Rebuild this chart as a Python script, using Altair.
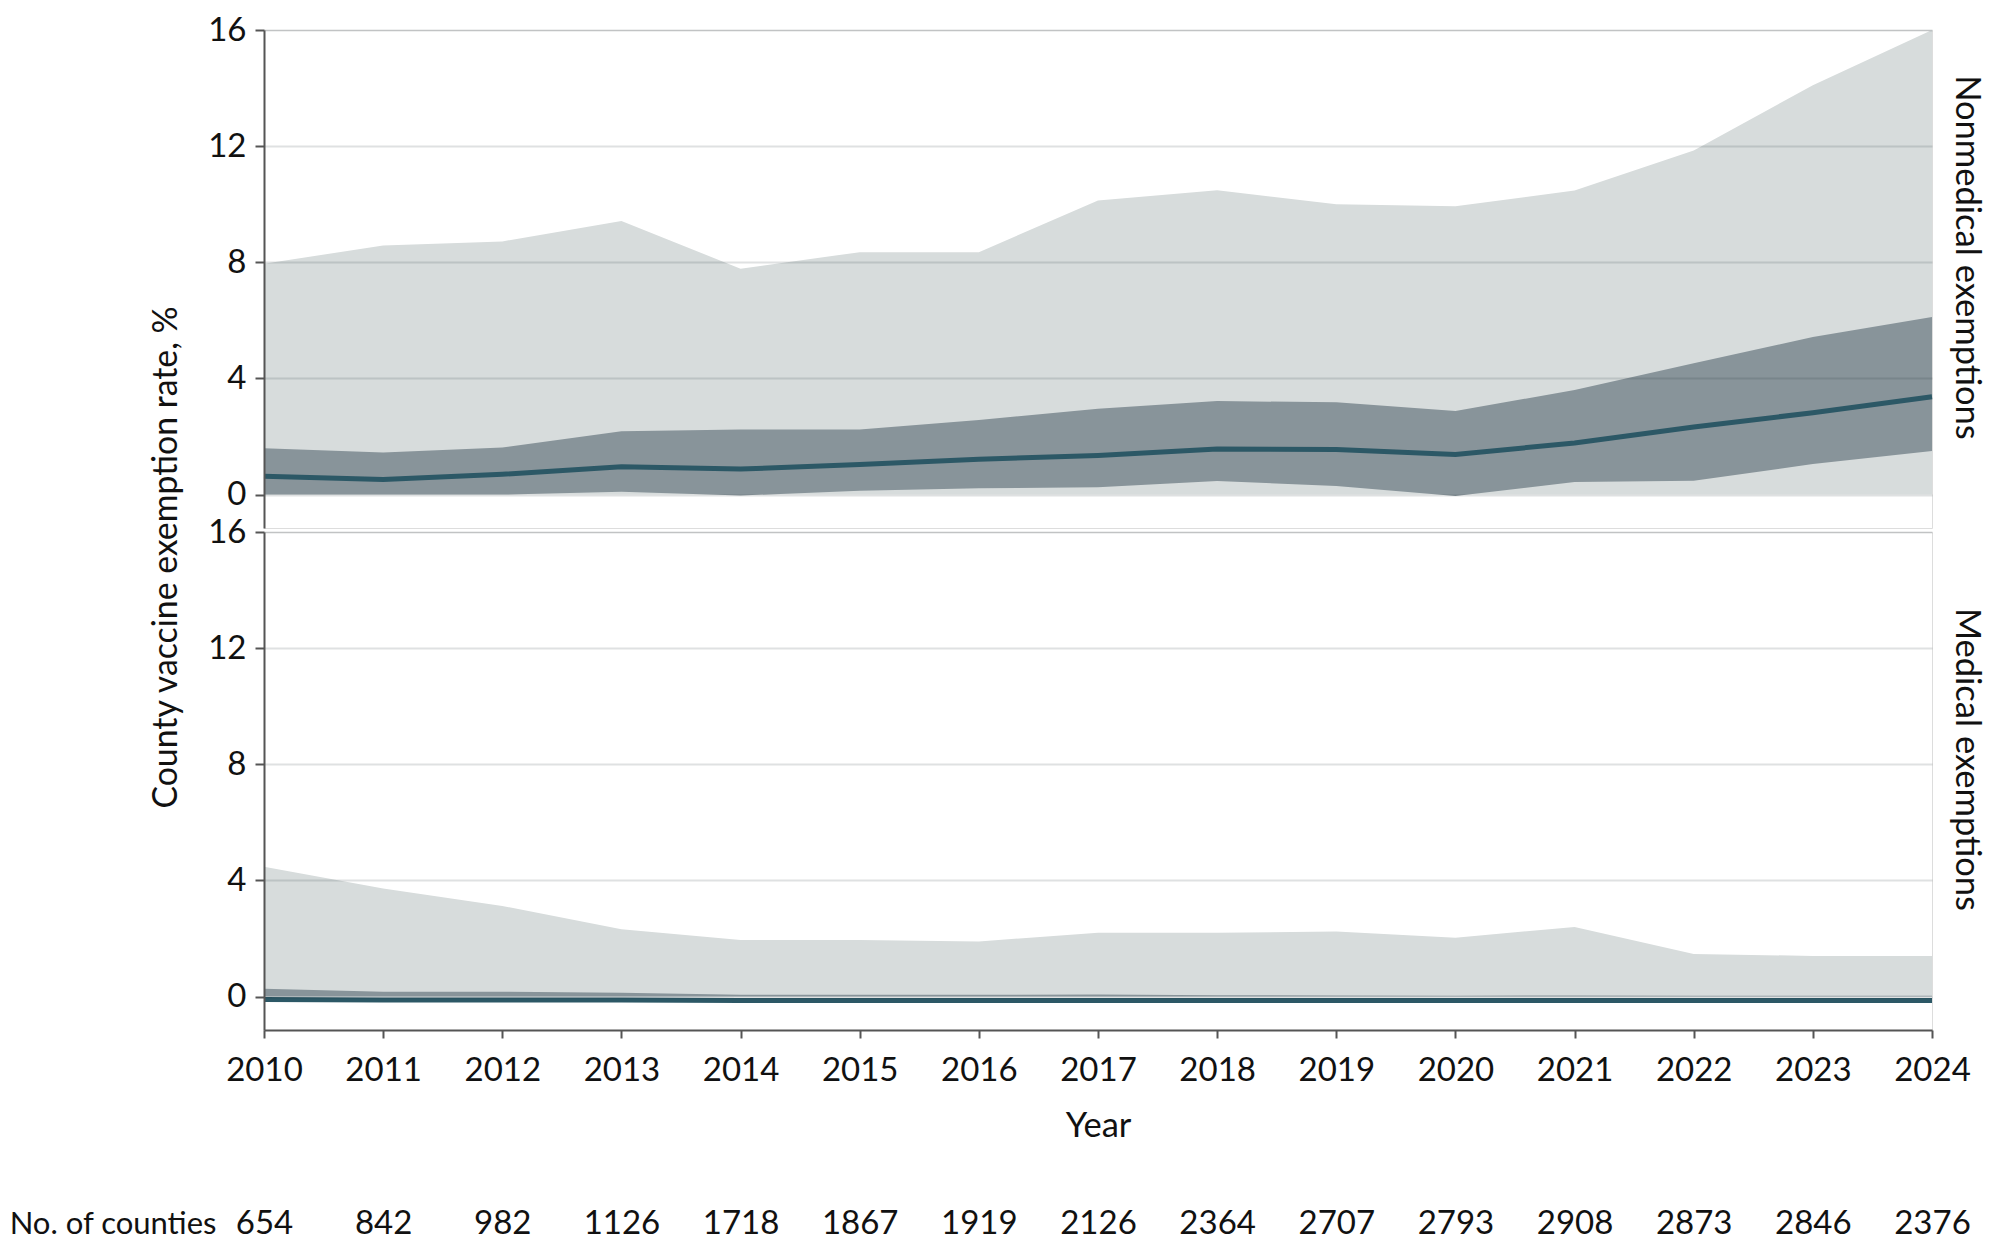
import altair as alt
import pandas as pd

years = list(range(2010, 2025))
counties = [654, 842, 982, 1126, 1718, 1867, 1919, 2126, 2364, 2707, 2793, 2908, 2873, 2846, 2376]

# Nonmedical exemptions (county exemption rate, %)
nm_range_lo = [0, 0, 0, 0, 0, 0, 0, 0, 0, 0, 0, 0, 0, 0, 0]
nm_range_hi = [7.95, 8.58, 8.72, 9.42, 7.78, 8.35, 8.35, 10.13, 10.48, 10.0, 9.93, 10.47, 11.85, 14.1, 16.0]
nm_iqr_lo = [0.0, 0.0, 0.0, 0.1, -0.03, 0.13, 0.22, 0.25, 0.47, 0.3, -0.05, 0.43, 0.48, 1.05, 1.5]
nm_iqr_hi = [1.6, 1.45, 1.62, 2.18, 2.24, 2.24, 2.57, 2.96, 3.22, 3.18, 2.88, 3.6, 4.52, 5.43, 6.12]
nm_median = [0.63, 0.52, 0.7, 0.96, 0.88, 1.04, 1.22, 1.35, 1.57, 1.55, 1.38, 1.78, 2.33, 2.82, 3.37]

# Medical exemptions
me_range_lo = [0, 0, 0, 0, 0, 0, 0, 0, 0, 0, 0, 0, 0, 0, 0]
me_range_hi = [4.47, 3.72, 3.12, 2.32, 1.95, 1.95, 1.9, 2.2, 2.2, 2.24, 2.03, 2.4, 1.47, 1.4, 1.4]
me_iqr_lo = [0, 0, 0, 0, 0, 0, 0, 0, 0, 0, 0, 0, 0, 0, 0]
me_iqr_hi = [0.27, 0.17, 0.17, 0.13, 0.06, 0.06, 0.06, 0.07, 0.05, 0.04, 0.03, 0.04, 0.03, 0.03, 0.03]
me_median = [-0.1, -0.12, -0.12, -0.12, -0.13, -0.13, -0.13, -0.13, -0.13, -0.13, -0.13, -0.13, -0.13, -0.13, -0.13]

y_ticks = [0, 4, 8, 12, 16]

FONT = "Lato"
FS = 33      # tick labels / counts
TFS = 34.5   # titles
LIGHT = "#d7dcdc"
DARK = "#88949a"
LINE = "#2c5866"
INK = "#111111"
W = 1668
H = 498


def make_df(lo, hi, ilo, ihi, med):
    return pd.DataFrame({"year": years, "rlo": lo, "rhi": hi, "ilo": ilo, "ihi": ihi, "med": med})


xscale = alt.Scale(domain=[years[0], years[-1]], nice=False, zero=False)
yscale = alt.Scale(domain=[-1.15, 16], nice=False, zero=False)

title_style = dict(titleFont=FONT, titleFontSize=TFS, titleFontWeight="normal", titleColor=INK)


def y_axis(title=None, **kw):
    args = dict(values=y_ticks, grid=True, gridColor="#1a2a30", gridOpacity=0.14, gridWidth=2,
                domainColor="#555555", domainWidth=2, tickColor="#555555", tickWidth=2, tickSize=9,
                labelPadding=9, labelFontSize=FS, labelColor=INK, labelFlush=False,
                labelFont=FONT, zindex=1)
    if title is not None:
        args.update(title=title, **kw)
    else:
        args.update(title=None)
    return alt.Axis(**args)


def side_axis(label):
    # right-hand panel label (strip text)
    return alt.Axis(orient="right", title=label, labels=False, ticks=False, domain=False, grid=False,
                    titleAngle=90, titleX=33, titleY=H / 2 - 22, titleAlign="center",
                    titleBaseline="middle", **title_style)


def panel(df, label, bottom):
    base = alt.Chart(df)
    if bottom:
        year_axis = alt.Axis(values=years, format="d", tickSize=8, tickWidth=2, tickColor="#555555",
                             domainColor="#555555", domainWidth=2, labelFontSize=FS, labelFont=FONT,
                             labelColor=INK, labelPadding=16, labelFlush=False, labelOverlap=False,
                             grid=False, title="Year", titlePadding=22, **title_style)
        expr = "[" + ",".join("'%d'" % c for c in counties) + "][datum.value - %d]" % years[0]
        count_axis = alt.Axis(values=years, orient="bottom", labelExpr=expr, domain=False, ticks=False,
                              tickSize=0, grid=False, labelFontSize=FS, labelFont=FONT,
                              labelColor=INK, labelPadding=203, labelBaseline="alphabetic",
                              labelFlush=False, labelOverlap=False,
                              title="No. of counties", titleFont=FONT, titleFontSize=31,
                              titleFontWeight="normal", titleColor=INK,
                              titleX=-48, titleY=203, titleAlign="right", titleBaseline="alphabetic",
                              titleAngle=0)
        yaxis = y_axis()
    else:
        year_axis = None
        count_axis = None
        yaxis = y_axis("County vaccine exemption rate, %", titleX=-98, titleY=527, titleAngle=-90,
                       titleAlign="center", titleBaseline="middle", titleFont=FONT,
                       titleFontSize=33.8, titleFontWeight="normal", titleColor=INK)

    light = base.mark_area(color=LIGHT, opacity=1).encode(
        x=alt.X("year:Q", scale=xscale, axis=year_axis),
        y=alt.Y("rlo:Q", scale=yscale, axis=yaxis),
        y2="rhi:Q",
    )
    dark = base.mark_area(color=DARK, opacity=1).encode(
        x=alt.X("year:Q", scale=xscale, axis=count_axis),
        y=alt.Y("ilo:Q", scale=yscale, axis=side_axis(label)),
        y2="ihi:Q",
    )
    line = base.mark_line(color=LINE, strokeWidth=5).encode(
        x=alt.X("year:Q", scale=xscale, axis=None),
        y=alt.Y("med:Q", scale=yscale, axis=None),
    )
    ch = alt.layer(light, dark, line).properties(width=W, height=H)
    if bottom:
        ch = ch.resolve_axis(x="independent", y="independent")
    else:
        ch = ch.resolve_axis(y="independent")
    return ch


top = panel(make_df(nm_range_lo, nm_range_hi, nm_iqr_lo, nm_iqr_hi, nm_median), "Nonmedical exemptions", False)
bot = panel(make_df(me_range_lo, me_range_hi, me_iqr_lo, me_iqr_hi, me_median), "Medical exemptions", True)

chart = alt.vconcat(top, bot, spacing=4, bounds="flush").properties(
    padding={"left": 0, "top": 5, "right": 6, "bottom": 0}
).configure_view(stroke=None).configure(font=FONT)

chart.save("out.html", embed_options={"renderer": "svg", "actions": False})
